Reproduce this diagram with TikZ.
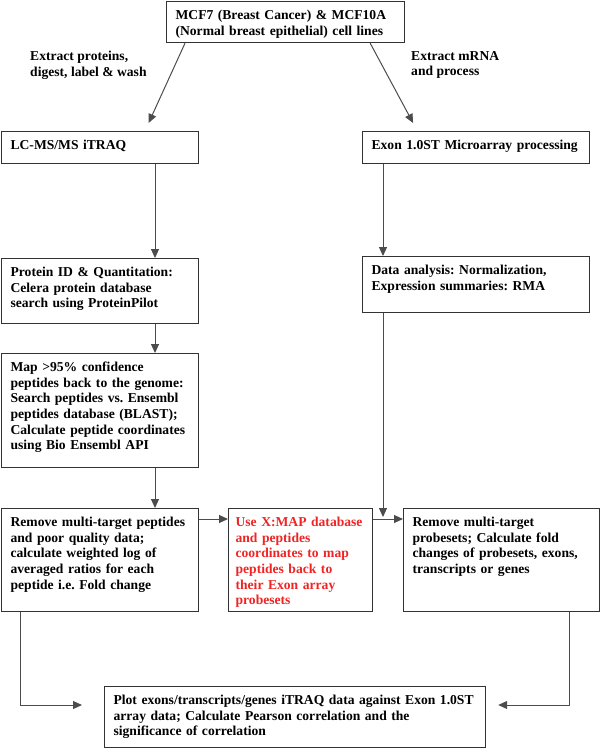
\documentclass[tikz,border=0pt]{standalone}
\usepackage{fontspec}
\setmainfont{Liberation Serif}
\usepackage{tikz}
\usetikzlibrary{arrows.meta}
\definecolor{xmapred}{RGB}{240,36,36}
\frenchspacing

\begin{document}
\begin{tikzpicture}[x=1pt,y=-1pt,
  font=\fontsize{13.6}{15.6}\selectfont\bfseries,
  stage/.style n args={2}{draw=black!80, line width=1.2pt, anchor=north west,
    align=left, inner xsep=9pt, inner ysep=0pt,
    text height=18pt, text width=#1, text depth=#2},
  flow/.style={draw=black!70, line width=1pt, -{Triangle[length=9pt,width=8pt]}},
  note/.style={anchor=north west, align=left, inner sep=0pt}]

\useasboundingbox (0,0) rectangle (600,748);

% Source box
\node[stage={220pt}{23pt}] (src) at (166,1) {MCF7 (Breast Cancer) \& MCF10A\\(Normal breast epithelial) cell lines};

% Proteomics branch (left)
\node[stage={179pt}{14pt}] (lcms) at (1,131) {LC-MS/MS iTRAQ};
\node[stage={179pt}{47pt}] (protid) at (1,258) {Protein ID \& Quantitation:\\Celera protein database\\search using ProteinPilot};
\node[stage={179pt}{96pt}] (mapping) at (1,353) {Map >95\% confidence\\peptides back to the genome:\\Search peptides vs. Ensembl\\peptides database (BLAST);\\Calculate peptide coordinates\\using Bio Ensembl API};
\node[stage={179pt}{85pt}] (filter) at (1,508) {Remove multi-target peptides\\and poor quality data;\\calculate weighted log of\\averaged ratios for each\\peptide i.e. Fold change};

% Microarray branch (right)
\node[stage={209pt}{14pt}] (exon) at (362,131) {Exon 1.0ST Microarray processing};
\node[stage={209pt}{38pt}] (analysis) at (362,256) {Data analysis: Normalization,\\Expression summaries: RMA};
\node[stage={178pt}{85pt}] (foldchange) at (403,508) {Remove multi-target\\probesets; Calculate fold\\changes of probesets, exons,\\transcripts or genes};

% Mapping step and result
\node[stage={130pt}{85pt}, inner xsep=7pt, text=xmapred] (xmap) at (228,508) {Use X:MAP database\\and peptides\\coordinates to map\\peptides back to\\their Exon array\\probesets};
\node[stage={363pt}{43pt}] (correlate) at (104,686) {Plot exons/transcripts/genes iTRAQ data against Exon 1.0ST\\array data; Calculate Pearson correlation and the\\significance of correlation};

% Labels on the first arrows
\node[note] (protlabel) at (30,51) {Extract proteins,\\digest, label \& wash};
\node[note] (rnalabel) at (411,51) {Extract mRNA\\and process};

% Connectors
\draw[flow] ([xshift=19pt]src.south west) -- ([xshift=48.5pt,yshift=8pt]lcms.north); % to proteomics
\draw[flow] ([xshift=-35pt]src.south east) -- ([xshift=-63pt,yshift=8pt]exon.north); % to microarray
\draw[flow] ([xshift=154pt]lcms.south west) -- ([xshift=154pt]protid.north west);
\draw[flow] ([xshift=154pt]protid.south west) -- ([xshift=154pt]mapping.north west);
\draw[flow] ([xshift=154pt]mapping.south west) -- ([xshift=154pt]filter.north west);
\draw[flow] ([xshift=21pt]exon.south west) -- ([xshift=21pt]analysis.north west);

\coordinate (lane) at ([yshift=-11pt]xmap.north east);
\coordinate (drop) at ([xshift=21pt]analysis.south west);
\draw[flow] ([yshift=-11pt]filter.north east) -- ([yshift=-11pt]xmap.north west);
\draw[flow] (lane) -- ([yshift=-11pt]foldchange.north west);
\draw[flow] (drop) -- ([yshift=2pt]drop |- lane); % joins the lane

\draw[flow] ([xshift=19pt]filter.south west) |- ([xshift=-22pt,yshift=-19pt]correlate.north west);
\draw[flow] ([xshift=-31pt]foldchange.south east) |- ([xshift=12pt,yshift=-19pt]correlate.north east);

\end{tikzpicture}
\end{document}
